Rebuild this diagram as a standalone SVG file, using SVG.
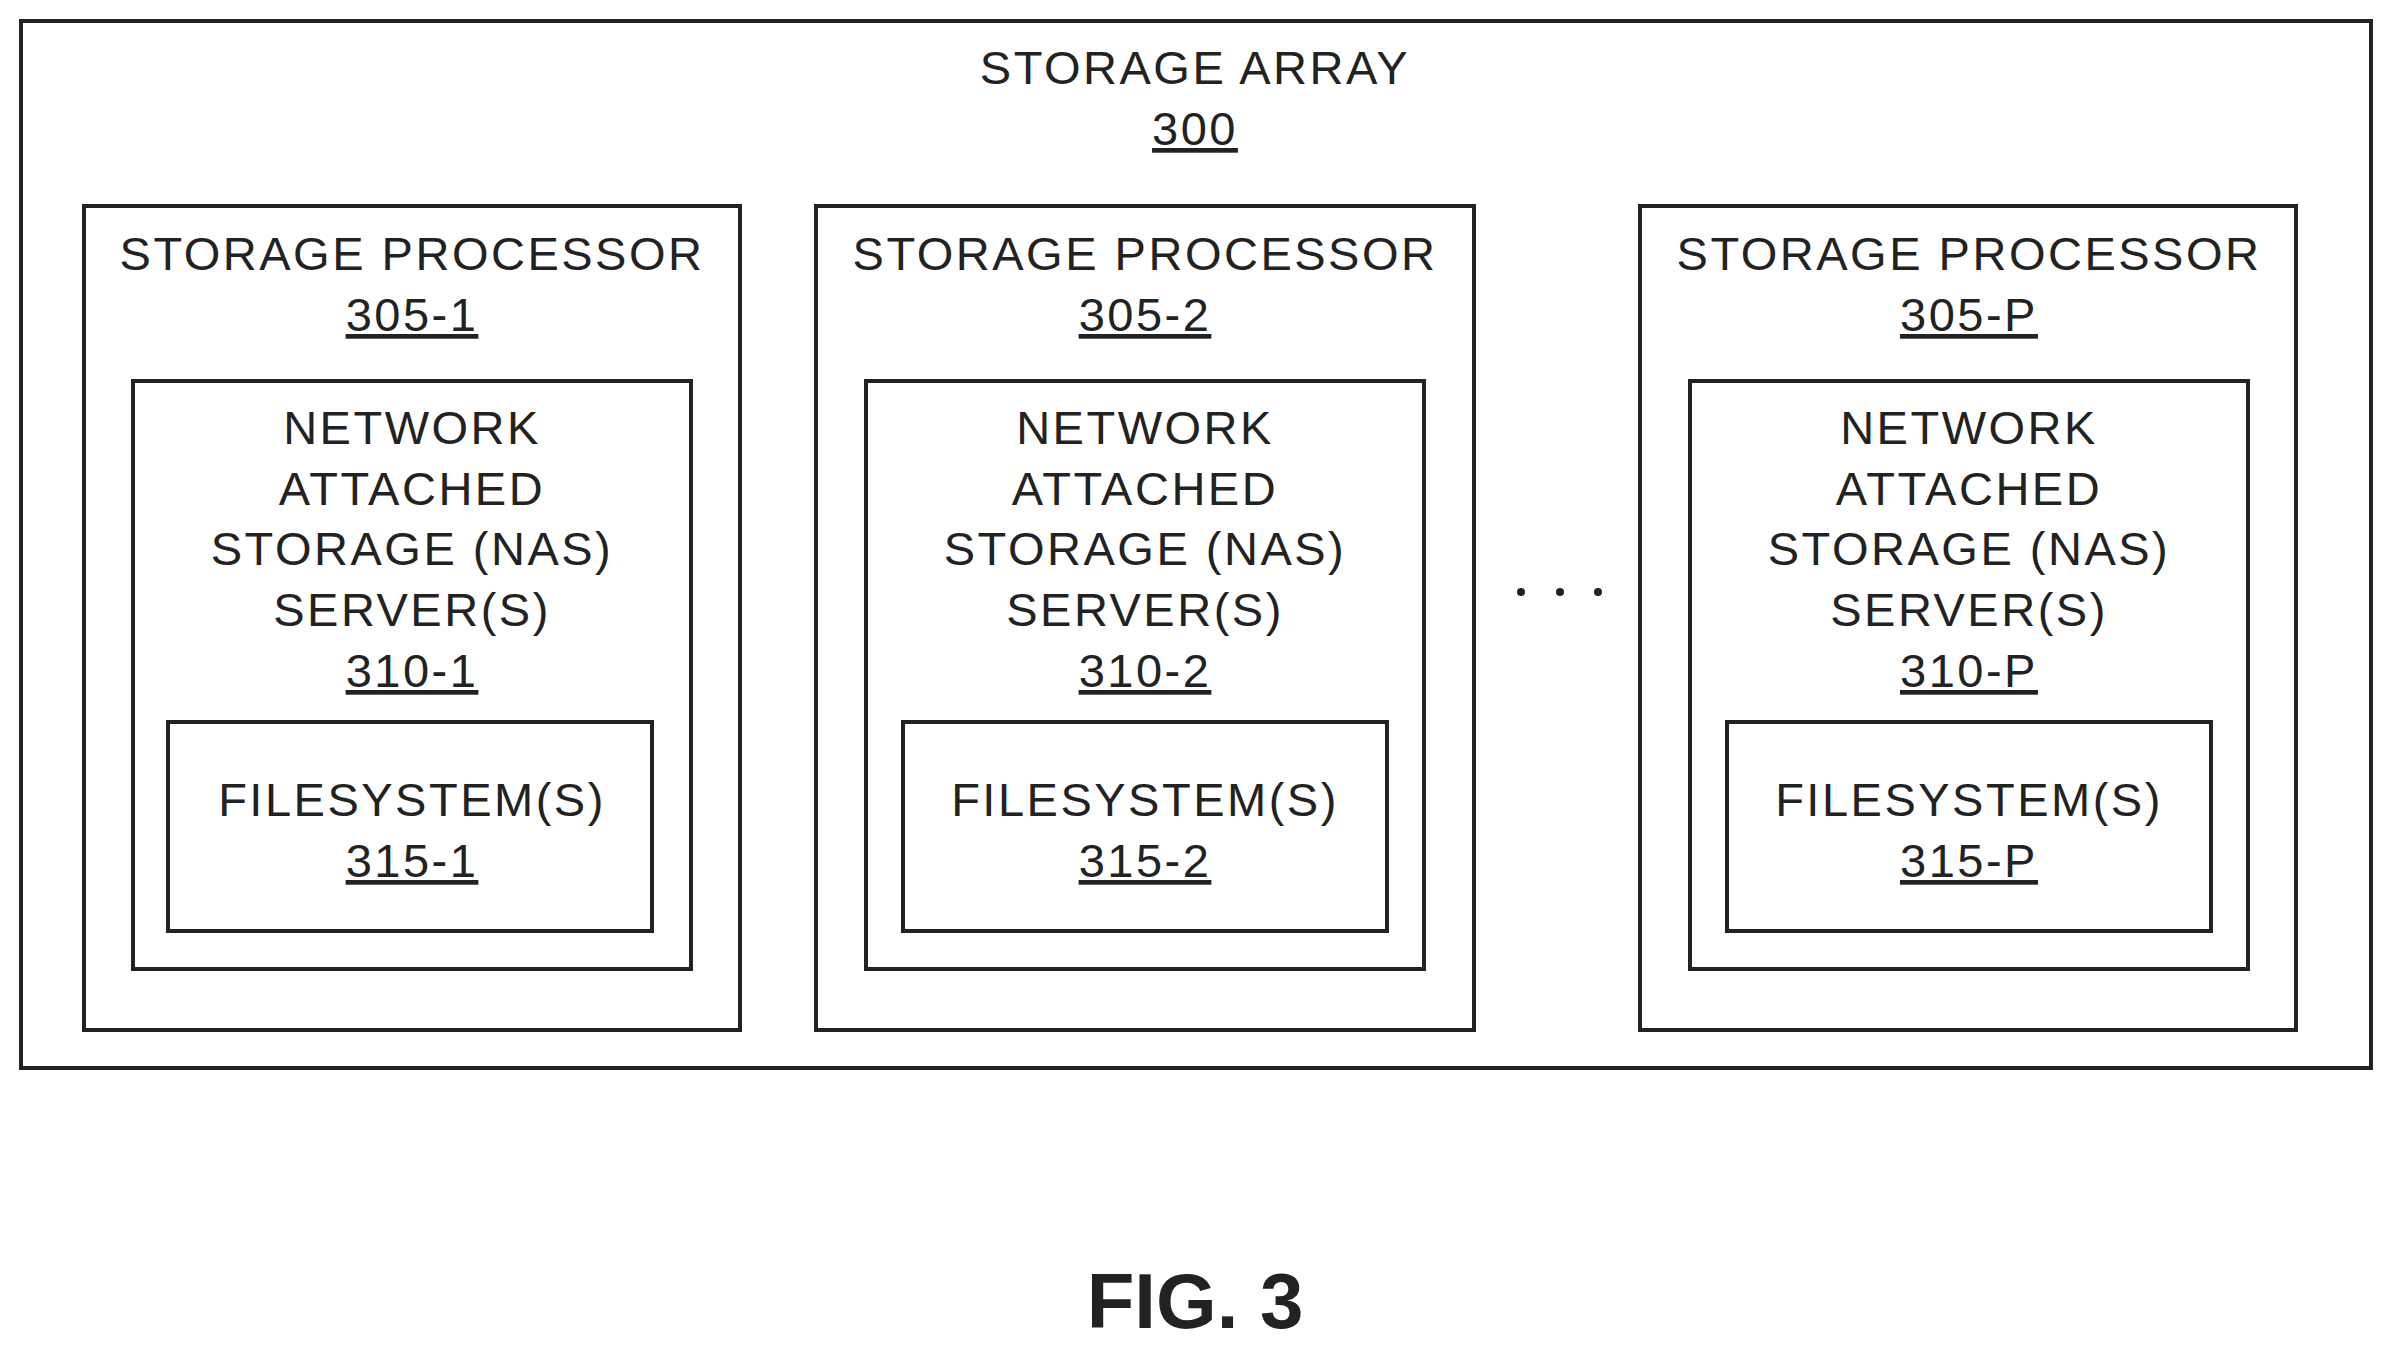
<svg xmlns="http://www.w3.org/2000/svg" width="2393" height="1349" viewBox="0 0 2393 1349">
<style>
rect{fill:none;stroke:#222;stroke-width:4}
text{font-family:"Liberation Sans",Arial,sans-serif;font-size:47px;letter-spacing:2.5px;fill:#222;text-anchor:middle}
.u{text-decoration:underline}
.fig{font-weight:bold;font-size:78px;letter-spacing:0}
</style>
<rect x="0" y="0" width="2393" height="1349" style="fill:#fff;stroke:none"/>
<g id="array">
<rect x="21" y="21" width="2350" height="1047"/>
<text x="1195" y="84">STORAGE ARRAY</text>
<text x="1195" y="145" class="u">300</text>
</g>
<g id="sp1">
<rect x="84" y="206" width="656" height="824"/>
<text x="412" y="270">STORAGE PROCESSOR</text>
<text x="412" y="331" class="u">305-1</text>
</g>
<g id="nas1">
<rect x="133" y="381" width="558" height="588"/>
<text x="412" y="444">NETWORK</text><text x="412" y="505">ATTACHED</text><text x="412" y="565">STORAGE (NAS)</text><text x="412" y="626">SERVER(S)</text>
<text x="412" y="687" class="u">310-1</text>
</g>
<g id="fs1">
<rect x="168" y="722" width="484" height="209"/>
<text x="412" y="816">FILESYSTEM(S)</text><text x="412" y="877" class="u">315-1</text>
</g>
<g id="sp2">
<rect x="816" y="206" width="658" height="824"/>
<text x="1145" y="270">STORAGE PROCESSOR</text>
<text x="1145" y="331" class="u">305-2</text>
</g>
<g id="nas2">
<rect x="866" y="381" width="558" height="588"/>
<text x="1145" y="444">NETWORK</text><text x="1145" y="505">ATTACHED</text><text x="1145" y="565">STORAGE (NAS)</text><text x="1145" y="626">SERVER(S)</text>
<text x="1145" y="687" class="u">310-2</text>
</g>
<g id="fs2">
<rect x="903" y="722" width="484" height="209"/>
<text x="1145" y="816">FILESYSTEM(S)</text><text x="1145" y="877" class="u">315-2</text>
</g>
<g id="sp3">
<rect x="1640" y="206" width="656" height="824"/>
<text x="1969" y="270">STORAGE PROCESSOR</text>
<text x="1969" y="331" class="u">305-P</text>
</g>
<g id="nas3">
<rect x="1690" y="381" width="558" height="588"/>
<text x="1969" y="444">NETWORK</text><text x="1969" y="505">ATTACHED</text><text x="1969" y="565">STORAGE (NAS)</text><text x="1969" y="626">SERVER(S)</text>
<text x="1969" y="687" class="u">310-P</text>
</g>
<g id="fs3">
<rect x="1727" y="722" width="484" height="209"/>
<text x="1969" y="816">FILESYSTEM(S)</text><text x="1969" y="877" class="u">315-P</text>
</g>
<g id="connectors"></g>
<g id="dots" fill="#222">
<circle cx="1521" cy="592" r="4"/><circle cx="1560" cy="592" r="4"/><circle cx="1598" cy="592" r="4"/>
</g>
<text x="1195" y="1328" class="fig">FIG. 3</text>
</svg>
